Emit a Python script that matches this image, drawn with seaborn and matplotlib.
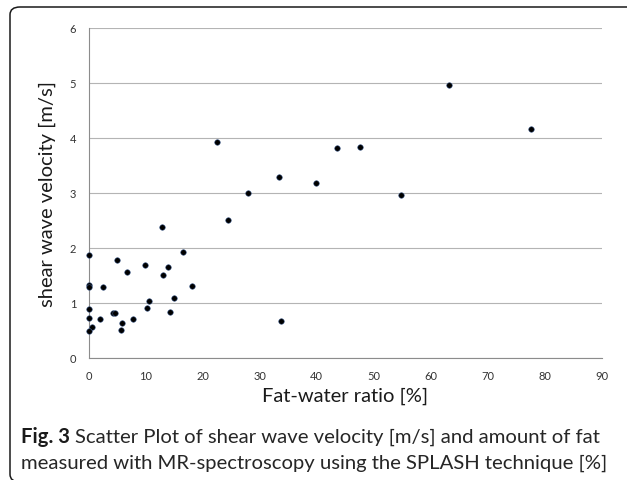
import matplotlib
matplotlib.use('Agg')
import matplotlib.pyplot as plt
import seaborn as sns
import pandas as pd
from matplotlib.patches import FancyBboxPatch

# values
fat_ratio = [63.2, 77.6, 43.5, 47.6, 33.4, 39.8, 54.8, 33.7, 27.9, 24.4,
             12.8, 22.5, 0.1, 16.5, 5.0, 9.8, 13.9, 6.7, 13.1, 0.1,
             0.1, 2.5, 18.2, 15.0, 10.5, 10.3, 14.3, 0.1, 4.2, 4.6,
             0.1, 2.0, 7.8, 5.8, 0.5, 0.1, 5.6]
velocity = [4.95, 4.16, 3.81, 3.84, 3.28, 3.17, 2.95, 0.66, 2.99, 2.50,
            2.38, 3.93, 1.87, 1.93, 1.77, 1.69, 1.65, 1.56, 1.51, 1.32,
            1.28, 1.28, 1.30, 1.09, 1.03, 0.90, 0.84, 0.89, 0.82, 0.82,
            0.73, 0.71, 0.71, 0.64, 0.56, 0.49, 0.51]
x_ticks = list(range(0, 91, 10))
y_ticks = list(range(0, 7))

df = pd.DataFrame({'fat_ratio': fat_ratio, 'velocity': velocity})

sns.set_theme(style='white')
plt.rcParams['font.family'] = ['Lato', 'DejaVu Sans']

W, H = 627, 481
fig = plt.figure(figsize=(W / 100, H / 100), dpi=100)
ax = fig.add_axes([88.7 / W, 1 - 358.7 / H, (601.7 - 88.7) / W, (358.7 - 28.7) / H])

sns.scatterplot(data=df, x='fat_ratio', y='velocity', ax=ax, s=16,
                color='black', edgecolor='#3d5a8a', linewidth=0.4,
                zorder=3, clip_on=False)

ax.set_xlim(0, 90)
ax.set_ylim(0, 6)
ax.set_xticks(x_ticks)
ax.set_yticks(y_ticks)

# excel-like look: gray left/bottom axis, horizontal grid only
for side in ['top', 'right']:
    ax.spines[side].set_visible(False)
for side in ['left', 'bottom']:
    ax.spines[side].set_color('#8c8c8c')
    ax.spines[side].set_linewidth(0.8)
ax.yaxis.grid(True, color='#b4b4b4', linewidth=0.8)
ax.xaxis.grid(False)
ax.set_axisbelow(True)
ax.tick_params(axis='both', which='major', direction='out', length=3,
               width=0.8, color='#8c8c8c', labelsize=8, labelcolor='#333333')
ax.tick_params(axis='x', pad=6)
ax.tick_params(axis='y', pad=6)

ax.set_xlabel('Fat-water ratio [%]', fontsize=14.5, color='#1a1a1a', labelpad=4)
ax.set_ylabel('shear wave velocity [m/s]', fontsize=14.5, color='#1a1a1a', labelpad=10)

# rounded frame around the figure
frame = FancyBboxPatch((10 / W, -0.004), 1.05, 1 - 8 / H + 0.004,
                       boxstyle='round,pad=0,rounding_size=0.016',
                       transform=fig.transFigure, fill=False,
                       edgecolor='#1a1a1a', linewidth=1.1)
fig.patches.append(frame)

# caption with bold figure number
cap_size = 14.6
t1 = fig.text(21 / W, 1 - 443 / H, 'Fig. 3', fontsize=cap_size, fontweight='bold',
              color='#1a1a1a', va='baseline', ha='left')
fig.canvas.draw()
bb = t1.get_window_extent(renderer=fig.canvas.get_renderer())
fig.text((bb.x1 + 5) / W, 1 - 443 / H,
         'Scatter Plot of shear wave velocity [m/s] and amount of fat',
         fontsize=cap_size, color='#262626', va='baseline', ha='left')
fig.text(21 / W, 1 - 469 / H,
         'measured with MR-spectroscopy using the SPLASH technique [%]',
         fontsize=cap_size, color='#262626', va='baseline', ha='left')

fig.savefig('out.png', dpi=100)
